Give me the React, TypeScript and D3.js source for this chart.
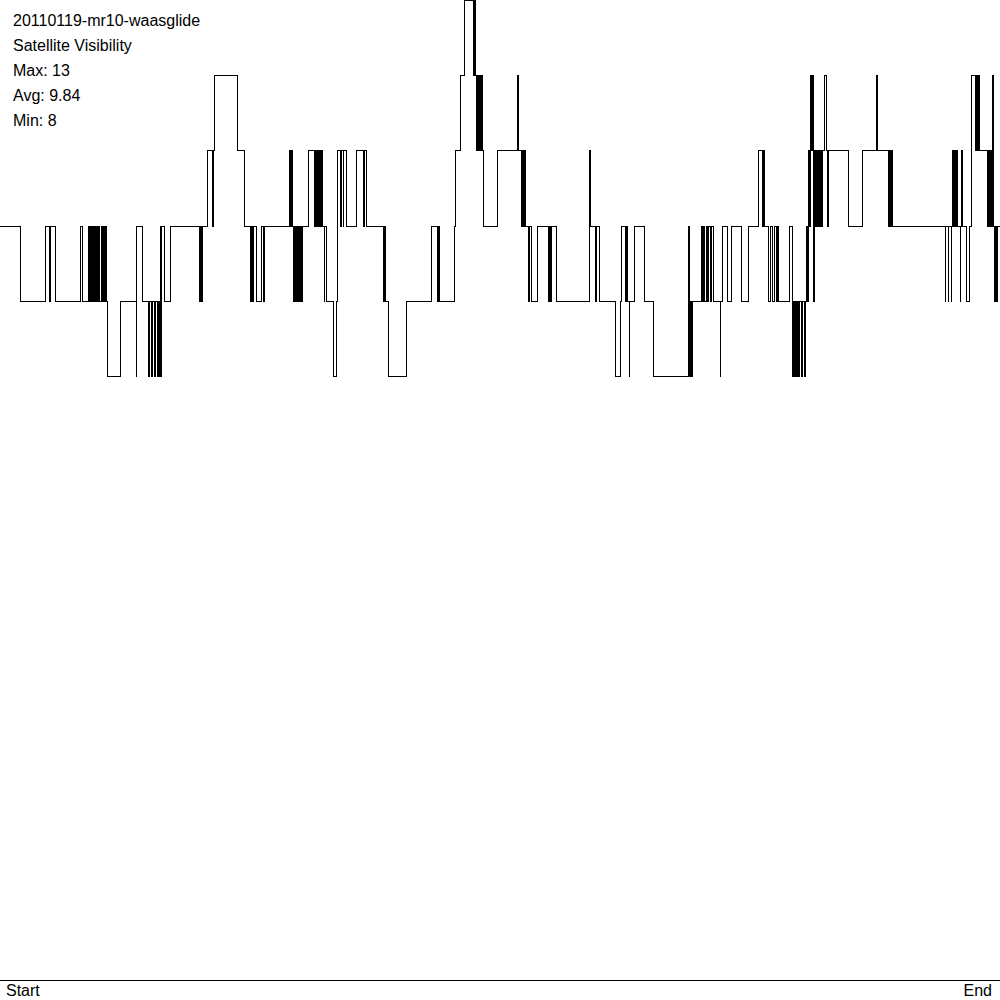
import React from "react";
import * as d3 from "d3";

// [sample position (0..1000), satellites visible from that sample on]
const visibilitySteps: [number, number][] = [
  [0, 10], [20.7, 9], [45, 10], [49.3, 9], [50.7, 10], [55, 9], [80, 10], [82, 9], [88.3, 10],
  [89, 9], [90, 10], [91, 9], [92, 10], [93, 9], [94, 10], [95, 9], [96, 10], [97, 9], [98, 10], [99, 9], [101, 10], [102, 9], [103, 10], [104, 9], [105, 10], [106, 9], [107, 8], [120, 9],
  [136, 8], [136.7, 10], [142.3, 9], [148, 8], [149, 9], [151, 8], [152, 9], [154, 8], [155, 9], [157, 8], [158, 9], [159, 8], [160, 10], [161, 8], [161.7, 10], [164, 9], [170, 10],
  [199, 9], [200, 10], [201, 9], [202, 10], [207, 11], [212, 10], [213, 11], [214, 12], [237, 11], [244.3, 10],
  [250, 9], [251, 10], [252, 9], [253, 10], [256.7, 9], [261.7, 10], [263, 9], [264, 10],
  [289, 11], [290, 10], [291, 11], [292, 10], [293, 9], [294, 10], [295, 9], [296, 10], [297, 9], [298, 10], [299, 9], [300, 10], [301, 9], [302, 10],
  [308.3, 11], [314, 10], [315, 11], [316, 10], [317, 11], [318, 10], [319, 11], [320, 10], [321, 11], [322, 10],
  [324, 9], [324.5, 10], [326, 9], [333.3, 8], [336.7, 9], [337.3, 11], [340.7, 10], [341.7, 11], [343, 10], [343.7, 11], [346.7, 10], [356, 11], [363.3, 10], [364.5, 11], [366.7, 10],
  [383, 9], [384, 10], [385, 9], [388.3, 8], [406.7, 9], [431.7, 10], [437, 9], [438, 10], [439, 9], [454, 10], [455, 11], [460.7, 12], [464.3, 13],
  [473, 12], [474, 13], [475, 12], [476, 11], [477, 12], [478, 11], [479, 12], [480, 11], [481, 12], [482, 11], [483.3, 10], [497.5, 11],
  [517.3, 12], [518, 11], [521, 10], [522, 11], [523, 10], [524, 11], [525, 10], [528.3, 9], [529.5, 10], [531, 9], [537.3, 10], [548.3, 9], [549.5, 10], [550.5, 9], [551.5, 10], [556.7, 9],
  [589.3, 11], [590.7, 10], [595, 9], [596, 10], [599.3, 9], [615, 8], [620.7, 9], [621.7, 10], [625, 9], [626, 10], [627, 9], [629, 8], [629.5, 9], [634.3, 10], [644.3, 9], [653.3, 8],
  [688.3, 10], [689, 8], [690, 9], [691, 8], [692, 9],
  [701, 10], [702, 9], [703, 10], [704, 9], [706, 10], [707, 9], [708, 10], [710, 9], [711.5, 10], [713, 9], [720, 8], [720.5, 9], [722.3, 10], [727.3, 9], [731, 10], [741, 9], [748.3, 10],
  [758.3, 11], [762, 10], [763, 11], [764, 10], [768, 9], [770, 10], [772, 9], [774, 10], [776, 9], [777, 10], [778, 9],
  [789.3, 10], [792, 8], [793, 9], [794, 8], [795, 9], [796, 8], [797, 9], [798, 8], [799, 9], [801, 8], [802, 9], [804, 8], [805, 9], [806, 10], [807, 9], [808, 11], [809, 10], [810, 12], [811, 11], [812, 12], [813, 9], [814, 11], [815, 10], [816, 11], [817, 10], [818, 11], [819, 10], [820, 11], [821, 10], [822, 11], [824, 12], [826.7, 11], [827.7, 10], [828.7, 11], [848.3, 10], [862.3, 11],
  [876.7, 12], [877.7, 11], [888, 10], [889, 11], [890, 10], [891, 11], [892, 10],
  [945, 9], [945.5, 10], [948, 9], [948.5, 10], [951, 9], [951.5, 10], [952, 11], [953, 10], [954, 11], [955, 10], [956, 11], [957, 10], [960, 9], [960.5, 10], [961, 11], [962.5, 10], [966, 9], [969.3, 10], [971.7, 12],
  [975, 11], [976, 12], [977, 11], [978, 12], [979, 11], [987, 10], [988, 11], [989, 10], [990, 11], [991, 10], [992, 12], [993, 10], [994, 9], [995, 10], [996, 9], [997, 10], [1000, 10],
];

const titleLines = ["20110119-mr10-waasglide", "Satellite Visibility", "Max: 13", "Avg: 9.84", "Min: 8"];
const axisLabels = ["Start", "End"];

const W = 1000;
const H = 1000;

export default function App() {
  const x = d3.scaleLinear().domain([0, 1000]).range([0, W]);
  const y = d3.scaleLinear().domain([0, 13]).range([980, 0]);
  const line = d3
    .line<[number, number]>()
    .x((d) => x(d[0]))
    .y((d) => y(d[1]))
    .curve(d3.curveStepAfter);
  const font = "'Liberation Sans', Arial, sans-serif";
  return (
    <svg
      width={W}
      height={H}
      style={{ position: "fixed", left: 0, top: 0, background: "#fff" }}
      fontFamily={font}
    >
      <rect x={0} y={0} width={W} height={H} fill="#fff" />
      <path
        d={line(visibilitySteps) || ""}
        fill="none"
        stroke="#000"
        strokeWidth={1}
        shapeRendering="crispEdges"
      />
      <line x1={0} x2={W} y1={y(0)} y2={y(0)} stroke="#000" strokeWidth={1} shapeRendering="crispEdges" />
      {titleLines.map((t, i) => (
        <text key={t} x={13} y={26 + i * 25} fontSize={16} fill="#000">
          {t}
        </text>
      ))}
      <text x={6} y={996} fontSize={16} fill="#000">
        {axisLabels[0]}
      </text>
      <text x={992} y={996} fontSize={16} fill="#000" textAnchor="end">
        {axisLabels[1]}
      </text>
    </svg>
  );
}
